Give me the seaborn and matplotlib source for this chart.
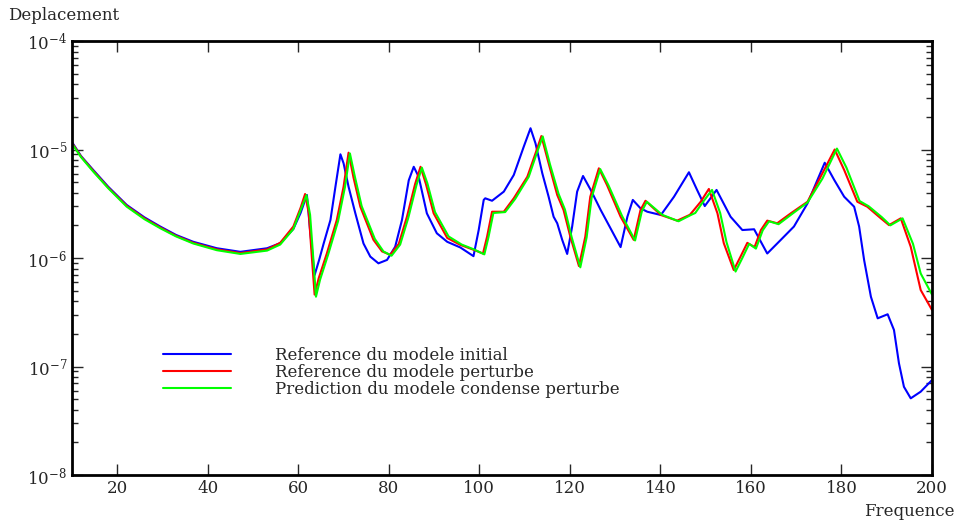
import numpy as np
import pandas as pd
import matplotlib
matplotlib.use('Agg')
import matplotlib.pyplot as plt
import seaborn as sns

# Frequence / deplacement
freq_init = [10, 12, 14.7, 18, 22.1, 26, 29.5, 33, 36.8, 42, 47.2, 53.1, 56.0, 58.9,
             60.5, 61.9, 62.6, 63.6, 64.6, 65.6, 67.1, 68.2, 69.3, 70.0, 71.1, 72.6,
             74.4, 75.9, 77.7, 79.6, 81.4, 82.9, 84.4, 85.5, 86.6, 88.4, 90.6, 92.9,
             95.8, 98.7, 99.85, 100.96, 101.3, 102.8, 105.4, 107.6, 109.8, 111.3, 112.4,
             113.9, 115.3, 116.4, 117.2, 118.3, 119.4, 120.5, 121.6, 122.9, 124.6, 126.8,
             129.0, 131.2, 132.7, 133.9, 135.6, 137.1, 140.1, 143.0, 146.3, 148.1, 149.8,
             152.4, 155.5, 158.1, 160.7, 163.6, 166.6, 169.5, 172.5, 176.3, 178.4, 180.6,
             182.8, 183.9, 185.0, 186.5, 188.0, 190.2, 191.6, 192.7, 193.8, 195.3, 197.5, 200]
depl_init = [1.17e-5, 8.7e-6, 6.47e-6, 4.54e-6, 3.08e-6, 2.37e-6, 1.95e-6, 1.63e-6, 1.41e-6,
             1.23e-6, 1.14e-6, 1.23e-6, 1.37e-6, 1.85e-6,
             2.6e-6, 3.81e-6, 1.8e-6, 6.97e-7, 9.6e-7, 1.36e-6, 2.24e-6, 4.54e-6, 9.03e-6,
             7.46e-6, 4.54e-6, 2.58e-6, 1.36e-6, 1.03e-6, 8.93e-7, 9.6e-7, 1.27e-6, 2.24e-6,
             5.2e-6, 6.93e-6, 5.6e-6, 2.58e-6, 1.69e-6, 1.41e-6,
             1.25e-6, 1.04e-6, 1.81e-6, 3.43e-6, 3.55e-6, 3.37e-6, 4.09e-6, 5.82e-6, 1.06e-5,
             1.57e-5, 1.14e-5, 6.04e-6, 3.67e-6, 2.40e-6, 2.09e-6, 1.47e-6, 1.09e-6, 1.95e-6,
             4.09e-6, 5.70e-6, 4.24e-6, 2.77e-6, 1.87e-6, 1.26e-6, 2.40e-6, 3.43e-6, 2.87e-6,
             2.67e-6, 2.49e-6, 3.67e-6, 6.17e-6, 4.24e-6, 3.01e-6,
             4.24e-6, 2.40e-6, 1.81e-6, 1.84e-6, 1.10e-6, 1.47e-6, 1.95e-6, 3.19e-6, 7.55e-6,
             5.24e-6, 3.67e-6, 2.97e-6, 1.95e-6, 9.59e-7, 4.40e-7, 2.78e-7, 3.03e-7, 2.17e-7,
             1.07e-7, 6.5e-8, 5.09e-8, 5.86e-8, 7.5e-8]

freq_pert = [10, 12, 14.7, 18, 22.1, 26, 29.5, 33, 36.8, 42, 47.2, 53.1, 56, 58.9,
             60.5, 61.5, 62.3, 63.0, 63.6, 64.5, 66.3, 68.5, 70.0, 71.1, 72.2, 73.7,
             76.6, 78.5, 80.3, 82.2, 84.0, 85.8, 87.0, 88.2, 89.9, 92.9, 95.8, 98.5,
             100.8, 101.7, 102.8, 105.4, 107.6, 110.6, 112.4, 113.7, 115.3, 117.2, 118.6,
             120.1, 122.0, 123.4, 124.5, 126.4, 128.2, 131.2, 134.1, 135.6, 136.7, 140.1,
             143.7, 146.5, 147.4, 148.9, 150.7, 152.6, 154.0, 156.2, 157.7, 159.2, 160.8,
             162.2, 163.6, 165.8, 168.8, 172.5, 175.4, 178.5, 180.6, 183.5, 185.7, 188.7,
             190.5, 193.1, 195.3, 197.5, 200]
depl_pert = [1.15e-5, 8.6e-6, 6.35e-6, 4.45e-6, 3.02e-6, 2.32e-6, 1.91e-6, 1.60e-6, 1.38e-6,
             1.2e-6, 1.11e-6, 1.20e-6, 1.38e-6, 1.95e-6,
             2.9e-6, 3.89e-6, 2.6e-6, 1.0e-6, 4.6e-7, 6.5e-7, 1.10e-6, 2.24e-6, 4.54e-6,
             9.35e-6, 5.5e-6, 2.97e-6, 1.47e-6, 1.15e-6, 1.07e-6, 1.35e-6, 2.40e-6, 4.8e-6,
             6.93e-6, 4.8e-6, 2.58e-6, 1.53e-6, 1.32e-6, 1.2e-6,
             1.10e-6, 1.57e-6, 2.67e-6, 2.67e-6, 3.55e-6, 5.61e-6, 9.2e-6, 1.33e-5, 7.46e-6,
             3.81e-6, 2.77e-6, 1.57e-6, 8.43e-7, 1.57e-6, 3.67e-6, 6.71e-6, 4.70e-6, 2.40e-6,
             1.47e-6, 2.77e-6, 3.37e-6, 2.49e-6,
             2.21e-6, 2.5e-6, 2.77e-6, 3.30e-6, 4.33e-6, 2.58e-6, 1.37e-6, 7.75e-7, 1.03e-6,
             1.38e-6, 1.26e-6, 1.81e-6, 2.21e-6, 2.09e-6, 2.58e-6, 3.30e-6, 5.61e-6, 1.0e-5,
             6.47e-6, 3.30e-6, 2.97e-6, 2.32e-6, 2.01e-6, 2.32e-6, 1.27e-6, 5.07e-7, 3.32e-7]

freq_pred = [10, 12, 14.7, 18, 22.1, 26, 29.5, 33, 36.8, 42, 47.2, 53.1, 56, 58.9,
             60.7, 61.8, 62.6, 63.3, 63.9, 64.8, 66.6, 68.8, 70.3, 71.4, 72.5, 74.0,
             76.9, 78.8, 80.6, 82.5, 84.3, 86.1, 87.3, 88.5, 90.2, 93.2, 96.1, 98.8,
             101.1, 102.0, 103.1, 105.7, 107.9, 110.9, 112.7, 114.0, 115.6, 117.5, 118.9,
             120.4, 122.3, 123.7, 124.8, 126.7, 128.5, 131.5, 134.4, 135.9, 137.0, 140.4,
             144.0, 146.8, 147.7, 149.2, 151.4, 153.2, 154.6, 156.6, 158.1, 159.6, 161.1,
             162.6, 164.0, 166.1, 169.1, 172.5, 175.8, 179.0, 181.1, 184.0, 186.0, 188.9,
             190.8, 193.5, 195.8, 197.5, 200]
depl_pred = [1.13e-5, 8.5e-6, 6.25e-6, 4.4e-6, 2.97e-6, 2.28e-6, 1.88e-6, 1.58e-6, 1.36e-6,
             1.18e-6, 1.09e-6, 1.17e-6, 1.33e-6, 1.85e-6,
             2.9e-6, 3.8e-6, 2.5e-6, 1.0e-6, 4.4e-7, 6.3e-7, 1.08e-6, 2.2e-6, 4.5e-6,
             9.2e-6, 5.6e-6, 3.0e-6, 1.5e-6, 1.15e-6, 1.05e-6, 1.33e-6, 2.35e-6, 4.7e-6,
             6.8e-6, 4.9e-6, 2.65e-6, 1.58e-6, 1.33e-6, 1.2e-6,
             1.08e-6, 1.55e-6, 2.6e-6, 2.65e-6, 3.5e-6, 5.6e-6, 9.3e-6, 1.32e-5, 7.3e-6,
             3.9e-6, 2.8e-6, 1.55e-6, 8.2e-7, 1.55e-6, 3.6e-6, 6.6e-6, 4.7e-6, 2.45e-6,
             1.45e-6, 2.7e-6, 3.3e-6, 2.5e-6,
             2.18e-6, 2.5e-6, 2.6e-6, 3.2e-6, 4.24e-6, 2.6e-6, 1.4e-6, 7.5e-7, 1.0e-6,
             1.35e-6, 1.22e-6, 1.8e-6, 2.18e-6, 2.05e-6, 2.55e-6, 3.25e-6, 5.4e-6, 1.02e-5,
             6.8e-6, 3.35e-6, 3.0e-6, 2.38e-6, 2.0e-6, 2.32e-6, 1.35e-6, 7.2e-7, 4.6e-7]

labels = ['Reference du modele initial', 'Reference du modele perturbe',
          'Prediction du modele condense perturbe']
colors = ['#0000ff', '#ff0000', '#00ff00']

sns.set_style('ticks')
plt.rcParams['font.family'] = ['DejaVu Serif']
plt.rcParams['mathtext.fontset'] = 'dejavuserif'
plt.rcParams['font.size'] = 12

fig = plt.figure(figsize=(9.62, 5.24), dpi=100)
ax = fig.add_axes([72 / 962, 49 / 524, 860 / 962, 434 / 524])

series = [(freq_init, depl_init), (freq_pert, depl_pert), (freq_pred, depl_pred)]
for (f, d), lab, col in zip(series, labels, colors):
    df = pd.DataFrame({'freq': f, 'depl': d})
    sns.lineplot(data=df, x='freq', y='depl', color=col, lw=1.5, label=lab, ax=ax)

ax.set_yscale('log')
ax.set_xlim(10, 200)
ax.set_ylim(1e-8, 1e-4)
ax.set_xticks(np.arange(20, 201, 20))
ax.set_xlabel('')
ax.set_ylabel('')
ax.tick_params(which='both', direction='in', top=True, right=True, labelsize=12)
ax.tick_params(which='major', length=8, width=1)
ax.tick_params(which='minor', length=4, width=1)
ax.tick_params(axis='x', which='minor', bottom=False, top=False)
for sp in ax.spines.values():
    sp.set_linewidth(2)
    sp.set_color('black')

ax.legend(loc='upper left', bbox_to_anchor=(0.106, 0.295), frameon=False,
          handlelength=4.1, handletextpad=2.6, labelspacing=0.0,
          borderpad=0, borderaxespad=0, fontsize=12)

fig.text(8 / 962, 1 - 15 / 524, 'Deplacement', va='center', ha='left', fontsize=12)
fig.text(955 / 962, 1 - 512 / 524, 'Frequence', va='center', ha='right', fontsize=12)

fig.savefig('out.png', dpi=100)
